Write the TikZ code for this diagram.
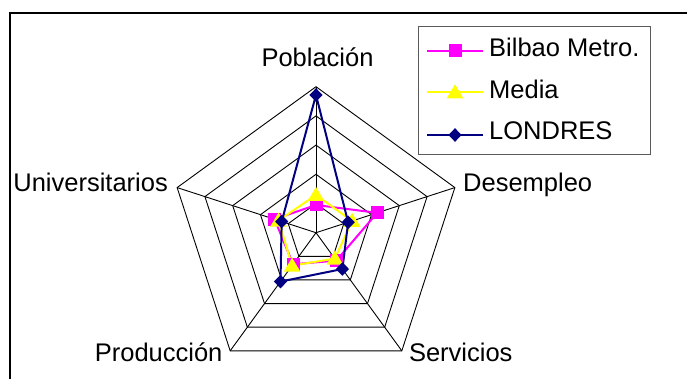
\documentclass[tikz,border=0pt]{standalone}
\usepackage{fontspec}
\setmainfont{Liberation Sans}
\definecolor{cmag}{RGB}{255,0,255}
\definecolor{cyel}{RGB}{255,255,0}
\definecolor{cnav}{RGB}{0,0,128}
\definecolor{cleg}{RGB}{90,90,90}
\begin{document}
\begin{tikzpicture}[x=1pt,y=-1pt,
  grid/.style={draw=black,line width=0.9pt},
  lbl/.style={font=\fontsize{25.5}{30}\selectfont,inner sep=0pt},
  sbil/.style={draw=cmag,line width=2pt,line join=round},
  smed/.style={draw=cyel,line width=2pt,line join=round},
  slon/.style={draw=cnav,line width=2pt,line join=round},
  sqm/.pic={\fill[cmag] (-6.5pt,-6.5pt) rectangle (6.5pt,6.5pt);},
  trm/.pic={\fill[cyel] (0pt,8pt) -- (8.3pt,-6pt) -- (-8.3pt,-6pt) -- cycle;},
  dim/.pic={\fill[cnav] (0pt,6.8pt) -- (6.6pt,0pt) -- (0pt,-6.8pt) -- (-6.6pt,0pt) -- cycle;}
]
\useasboundingbox (0,0) rectangle (687,379);
\fill[white] (0,0) rectangle (687,379);
\clip (0,0) rectangle (687,379);
% chart frame
\draw[line width=1.3pt] (10,13) rectangle (700,395);
% radar
\coordinate (C) at (316,232.7);
\begin{scope}[shift={(C)}]
  \foreach \k in {1,...,5}{
    \pgfmathsetmacro\r{29.2*\k}
    \draw[grid] (90:\r pt) -- (18:\r pt) -- (-54:\r pt) -- (-126:\r pt) -- (162:\r pt) -- cycle;
  }
  \foreach \a in {90,18,-54,-126,162}{
    \draw[grid] (0pt,0pt) -- (\a:146pt);
  }
  % series lines
  \draw[sbil] (90:27.7pt) -- (18:64.3pt) -- (-54:34.5pt) -- (-126:39pt) -- (162:43.6pt) -- cycle;
  \draw[smed] (90:37.7pt) -- (18:38pt) -- (-54:32pt) -- (-126:40.7pt) -- (162:39.4pt) -- cycle;
  \draw[slon] (90:137.7pt) -- (18:33.8pt) -- (-54:44.9pt) -- (-126:60.4pt) -- (162:36.1pt) -- cycle;
  % markers
  \foreach \a/\r in {90/27.7,18/64.3,-54/34.5,-126/39,162/43.6}{\pic at (\a:\r pt) {sqm};}
  \foreach \a/\r in {90/37.7,18/38,-54/32,-126/40.7,162/39.4}{\pic at (\a:\r pt) {trm};}
  \foreach \a/\r in {90/137.7,18/33.8,-54/44.9,-126/60.4,162/36.1}{\pic at (\a:\r pt) {dim};}
\end{scope}
% axis labels
\node[lbl,anchor=base] (pob) at (317.5,66.7) {Población};
\node[lbl,anchor=base west] (des) at (463,191.5) {Desempleo};
\node[lbl,anchor=base east] (uni) at (168,191.5) {Universitarios};
\node[lbl,anchor=base east] (pro) at (222.6,361.5) {Producción};
\node[lbl,anchor=base west] (ser) at (408.8,361.5) {Servicios};
% legend
\draw[draw=cleg,line width=1pt,fill=white] (418,26.7) rectangle (650,154.3);
\coordinate (l1a) at (427.3,50.7); \coordinate (l1b) at (482.7,50.7);
\coordinate (l2a) at (427.3,92.3); \coordinate (l2b) at (482.7,92.3);
\coordinate (l3a) at (427.3,135); \coordinate (l3b) at (482.7,135);
\draw[sbil] (l1a) -- (l1b); \pic at (455,50.7) {sqm};
\draw[smed] (l2a) -- (l2b); \pic at (455,92.3) {trm};
\draw[slon] (l3a) -- (l3b); \pic at (455,135) {dim};
\node[lbl,anchor=base west] (t1) at (489,56.5) {Bilbao Metro.};
\node[lbl,anchor=base west] (t2) at (489,98.3) {Media};
\node[lbl,anchor=base west] (t3) at (489,140) {LONDRES};
\end{tikzpicture}
\end{document}
